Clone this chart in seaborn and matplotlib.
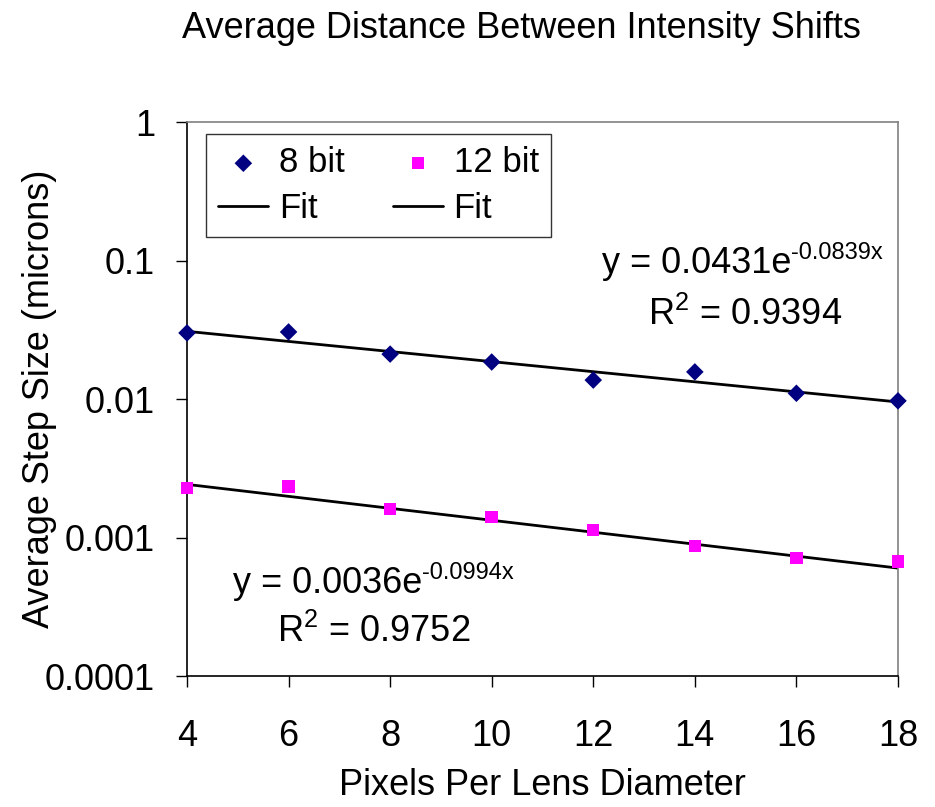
import numpy as np
import pandas as pd
import seaborn as sns
import matplotlib.pyplot as plt

# pixels per lens diameter
pixels = [4, 6, 8, 10, 12, 14, 16, 18]
# average step size (microns)
step_8bit = [0.0300, 0.0305, 0.0211, 0.0185, 0.0137, 0.0157, 0.0110, 0.0097]
step_12bit = [0.00228, 0.00233, 0.00161, 0.00141, 0.00113, 0.00087, 0.00071, 0.00067]

# exponential trendlines as printed on the chart: (a, b, R^2) for y = a*exp(b*x)
fit_8bit = (0.0431, -0.0839, 0.9394)
fit_12bit = (0.0036, -0.0994, 0.9752)

sns.set_theme(style="white")
plt.rcParams["font.family"] = ["Liberation Sans", "DejaVu Sans"]
plt.rcParams["mathtext.fontset"] = "custom"
plt.rcParams["mathtext.rm"] = "Liberation Sans"
plt.rcParams["mathtext.default"] = "regular"
plt.rcParams["text.color"] = "black"
plt.rcParams["axes.labelcolor"] = "black"
plt.rcParams["xtick.color"] = "black"
plt.rcParams["ytick.color"] = "black"

df = pd.DataFrame({"x": pixels, "b8": step_8bit, "b12": step_12bit})
xs = np.linspace(min(pixels), max(pixels), 200)
fits = pd.DataFrame({
    "x": xs,
    "f8": fit_8bit[0] * np.exp(fit_8bit[1] * xs),
    "f12": fit_12bit[0] * np.exp(fit_12bit[1] * xs),
})

fig = plt.figure(figsize=(9.35, 8.07), dpi=100)
ax = fig.add_axes([0.2, 0.1623, 0.7604, 0.6865])

sns.scatterplot(data=df, x="x", y="b8", marker="D", s=80, color="#000080",
                edgecolor="none", ax=ax, label="8 bit", clip_on=False, zorder=3)
sns.lineplot(data=fits, x="x", y="f8", color="black", lw=2, ax=ax, label="Fit")
sns.scatterplot(data=df, x="x", y="b12", marker="s", s=80, color="#FF00FF",
                edgecolor="none", ax=ax, label="12 bit", clip_on=False, zorder=3)
sns.lineplot(data=fits, x="x", y="f12", color="black", lw=2, ax=ax, label="Fit")

ax.set_yscale("log")
ax.set_ylim(0.0001, 1)
ax.set_xlim(4, 18)
ax.set_xticks([4, 6, 8, 10, 12, 14, 16, 18])
ax.set_yticks([0.0001, 0.001, 0.01, 0.1, 1])
ax.set_yticklabels(["0.0001", "0.001", "0.01", "0.1", "1"])
ax.minorticks_off()
ax.tick_params(axis="both", labelsize=26, direction="out", length=8,
               width=1, left=True, bottom=True)
ax.tick_params(axis="y", pad=15)
ax.tick_params(axis="x", pad=23)

for side in ["left", "bottom"]:
    ax.spines[side].set_color("black")
    ax.spines[side].set_linewidth(1.2)
for side in ["top", "right"]:
    ax.spines[side].set_color("#808080")
    ax.spines[side].set_linewidth(1.2)

ax.set_xlabel("Pixels Per Lens Diameter", fontsize=26, labelpad=10)
ax.set_ylabel("Average Step Size (microns)", fontsize=26, labelpad=-9)
fig.text(0.558, 0.965, "Average Distance Between Intensity Shifts",
         fontsize=26, ha="center", va="center")


def equation(x, y, fit):
    t = ax.text(x, y, "y = %.4fe" % fit[0], fontsize=26,
                ha="left", va="baseline")
    ax.annotate("%.4fx" % fit[1], xy=(1, 0.62), xycoords=t, fontsize=17,
                ha="left", va="baseline")


equation(12.17, 0.0814, fit_8bit)
ax.text(13.08, 0.0343, r"R$^{2}$ = %.4f" % fit_8bit[2], fontsize=26,
        ha="left", va="baseline")
equation(4.9, 0.0004, fit_12bit)
ax.text(5.77, 0.000177, r"R$^{2}$ = %.4f" % fit_12bit[2], fontsize=26,
        ha="left", va="baseline")

handles, labels = ax.get_legend_handles_labels()
leg = ax.legend(handles, labels, ncol=2, fontsize=25, loc="upper left",
                bbox_to_anchor=(0.027, 0.978), borderaxespad=0, frameon=True,
                fancybox=False, edgecolor="black", handlelength=1.44,
                handletextpad=0.3, columnspacing=1.4, borderpad=0.35,
                labelspacing=0.37)
leg.get_frame().set_linewidth(1)

fig.savefig("out.png", dpi=100)
